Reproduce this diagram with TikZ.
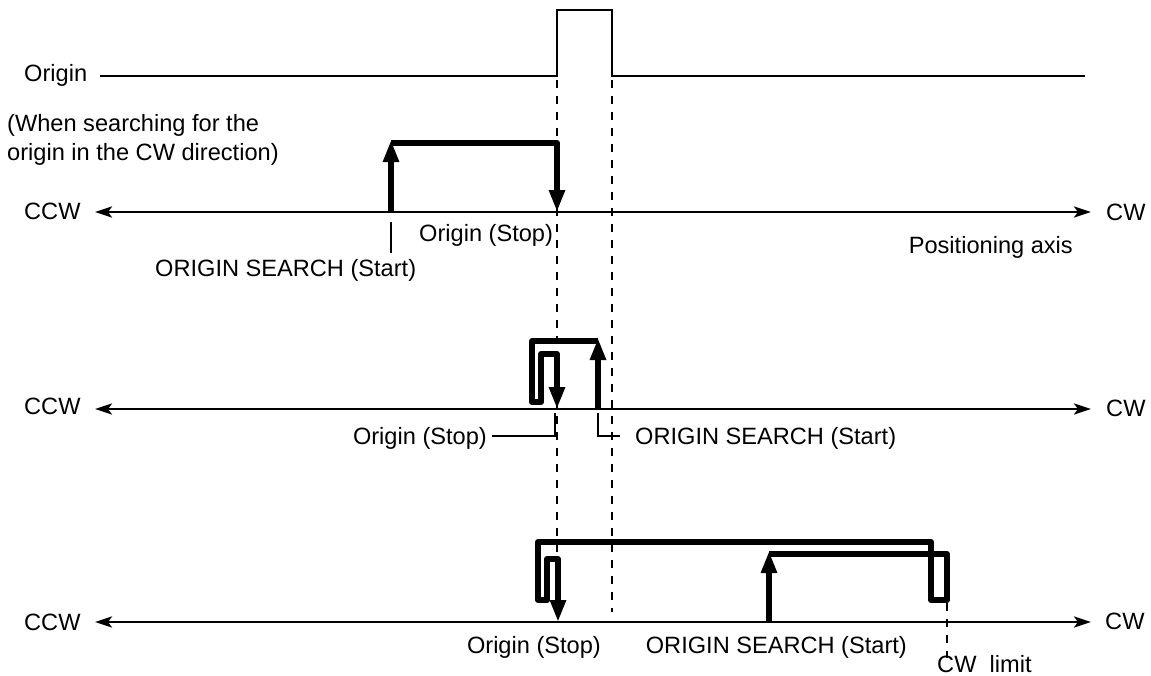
\documentclass[tikz,border=0pt]{standalone}
\usepackage{fontspec}
\setmainfont{Liberation Sans}
\usetikzlibrary{arrows.meta}
\begin{document}
\begin{tikzpicture}[x=1pt,y=-1pt,
  lbl/.style={inner sep=0pt,font=\fontsize{23.6}{28}\selectfont},
  axisline/.style={line width=2.8pt,{Stealth[length=17pt,width=11pt,inset=4pt]}-{Stealth[length=17pt,width=11pt,inset=4pt]}},
  motion/.style={line width=6pt,line join=round},
  motionarrow/.style={motion,-{Triangle[length=22pt,width=15pt]}},
  guide/.style={line width=2.6pt,dash pattern=on 8pt off 8pt},
  thin/.style={line width=2.4pt},
  signal/.style={line width=2.4pt}]
\useasboundingbox (0,0) rectangle (1151,675);
% origin signal
\node[lbl,anchor=base west] (orig) at (24,81) {Origin};
\draw[signal] (100,76) -- (557,76) -- (557,10) -- (612,10) -- (612,76) -- (1085,76);
\draw[guide] (557,80) -- (557,555);
\draw[guide] (612,80) -- (612,612);
\node[lbl,anchor=base west] (note1) at (7,131) {(When searching for the};
\node[lbl,anchor=base west] (note2) at (7,160) {origin in the CW direction)};
% row 1
\node[lbl,anchor=base west] (ccwA) at (24,219) {CCW};
\node[lbl,anchor=base west] (cwA) at (1106,220) {CW};
\draw[axisline] (95,212) -- (1091,212);
\draw[motionarrow] (391,212) -- (391,140);
\draw[motionarrow] (391,143) -- (557,143) -- (557,212);
\draw[thin] (391,222) -- (391,253);
\node[lbl,anchor=base west] (stopA) at (419,241) {Origin (Stop)};
\node[lbl,anchor=base west] (startA) at (155,276) {ORIGIN SEARCH (Start)};
\node[lbl,anchor=base east] (posax) at (1073,253) {Positioning axis};
% row 2
\node[lbl,anchor=base west] (ccwB) at (24,414) {CCW};
\node[lbl,anchor=base west] (cwB) at (1106,416) {CW};
\draw[axisline] (95,409) -- (1091,409);
\draw[motionarrow] (598,409) -- (598,338);
\draw[motionarrow] (598,341) -- (532,341) -- (532,402) -- (541,402) -- (541,354) -- (557,354) -- (557,409);
\draw[thin] (492,436) -- (555,436) -- (555,413);
\draw[thin] (598,413) -- (598,436) -- (620,436);
\node[lbl,anchor=base east] (stopB) at (487,444) {Origin (Stop)};
\node[lbl,anchor=base west] (startB) at (635,444) {ORIGIN SEARCH (Start)};
% row 3
\node[lbl,anchor=base west] (ccwC) at (24,630) {CCW};
\node[lbl,anchor=base west] (cwC) at (1105,629) {CW};
\draw[axisline] (95,622) -- (1091,622);
\draw[motionarrow] (769,622) -- (769,551);
\draw[motionarrow] (769,554) -- (947,554) -- (947,600) -- (931,600) -- (931,542) -- (538,542) -- (538,600) -- (547,600) -- (547,559) -- (558,559) -- (558,622);
\draw[guide] (947,603) -- (947,658);
\node[lbl,anchor=base east] (stopC) at (601,653) {Origin (Stop)};
\node[lbl,anchor=base east] (startC) at (907,653) {ORIGIN SEARCH (Start)};
\node[lbl,anchor=base west] (cwlim) at (937,672) {CW\ \ limit};
\end{tikzpicture}
\end{document}
